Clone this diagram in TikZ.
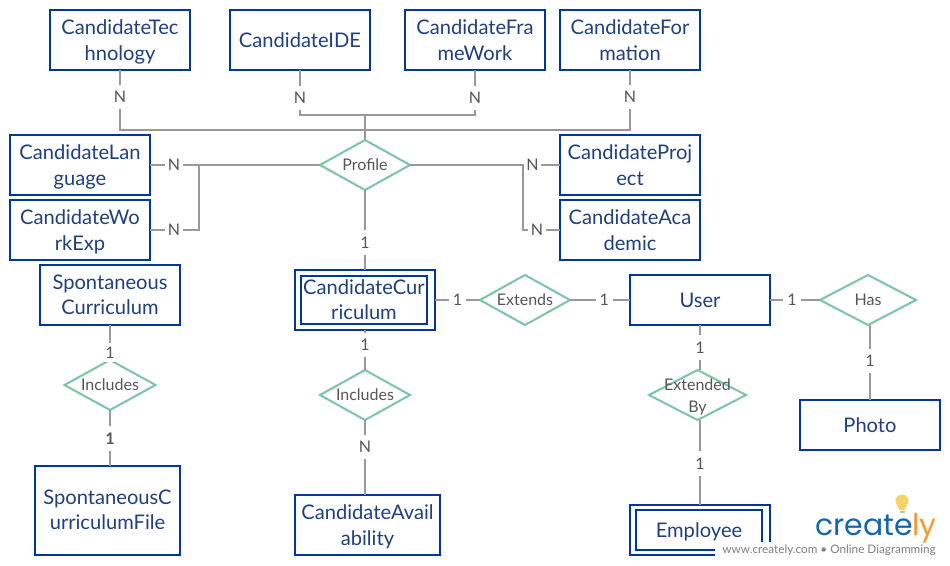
\documentclass[tikz,border=0pt]{standalone}
\usepackage{fontspec}
\setmainfont{Lato}
\newfontfamily\logofont{Poppins}
\usetikzlibrary{positioning,shapes.geometric,calc}
\definecolor{boxblue}{HTML}{00379A}
\definecolor{boxtext}{HTML}{1F3F7F}
\definecolor{relgreen}{HTML}{7CC5A2}
\definecolor{linkgray}{HTML}{999999}
\definecolor{cardgray}{HTML}{555555}
\definecolor{logoblue}{HTML}{1565AE}
\definecolor{logoorange}{HTML}{F79A2E}
\definecolor{bulbyellow}{HTML}{F6D267}
\tikzset{
  entity/.style={draw=boxblue,line width=1.5pt,fill=white,text=boxtext,minimum width=105pt,minimum height=45pt,
    inner sep=0pt,outer sep=0pt,align=center,text depth=-2pt,font=\fontsize{15.1}{19}\selectfont},
  relation/.style={diamond,aspect=1.8,draw=relgreen,line width=1.5pt,fill=white,text=cardgray,minimum width=67.5pt,minimum height=37.5pt,
    inner sep=0pt,outer sep=0pt,align=center,font=\fontsize{12}{15}\selectfont},
  link/.style={draw=linkgray,line width=1.5pt},
  card/.style={fill=white,text=cardgray,inner sep=0pt,minimum width=13pt,minimum height=18.5pt,font=\fontsize{12}{15}\selectfont},
}
\begin{document}
\begin{tikzpicture}[x=.75pt,y=-.75pt]
    \useasboundingbox[fill=white] (0,0) rectangle (950,565);
    % Define nodes
    \node (Tech) [entity] at (120,40) {CandidateTec\\hnology};
    \node (IDE) [entity,right=30pt of Tech] {CandidateIDE};
    \node (Frame) [entity,right=26.25pt of IDE] {CandidateFra\\meWork};
    \node (Formation) [entity,right=11.25pt of Frame] {CandidateFor\\mation};

    \node (Profile) [relation] at (365,165) {Profile};
    \node (Language) [entity] at (80,165) {CandidateLan\\guage};
    \node (WorkExp) [entity,below=3.75pt of Language] {CandidateWo\\rkExp};
    \node (Project) [entity] at (630,165) {CandidateProj\\ect};
    \node (Academic) [entity,below=3.75pt of Project] {CandidateAca\\demic};

    \node (Curriculum) [entity] at (365,300) {};
    \node (CurInner) [entity,minimum width=94.5pt,minimum height=36pt,text depth=0.5pt] at (364,300) {CandidateCur\\riculum};
    \node (Extends) [relation,right=33.75pt of Curriculum] {Extends};
    \node (User) [entity,minimum height=37.5pt,right=45pt of Extends] {User};
    \node (Has) [relation,minimum width=72pt,right=37.5pt of User] {Has};
    \node (Photo) [entity,minimum height=37.5pt] at (870,425) {Photo};

    \node (IncCur) [relation] at (365,395) {Includes};
    \node (Avail) [entity,minimum width=108.75pt] at (367.5,525) {CandidateAvail\\ability};
    \node (ExtBy) [relation,minimum width=72.75pt,label={[text=cardgray,align=center,yshift=-1.5pt,font=\fontsize{12}{16.5}\selectfont]center:Extended\\By}] at (697.5,395) {};
    \node (Employee) [entity,minimum height=37.5pt] at (700,530) {};
    \node (EmpInner) [entity,minimum width=94.5pt,minimum height=30pt] at (699,530) {Employee};

    \node (Spont) [entity] at (110,295) {Spontaneous\\Curriculum};
    \node (IncSpont) [relation,minimum width=68.25pt] at (110,385) {Includes};
    \node (SpontFile) [entity,minimum width=108.75pt,minimum height=66.75pt,text depth=0pt] at (107.5,510) {SpontaneousC\\urriculumFile};

    \coordinate (BusWide) at (365,130);
    \coordinate (BusNarrow) at (365,115);
    \coordinate (JoinLeft) at (199,165);
    \coordinate (JoinRight) at (523,165);

    % Draw connectors
    \draw[link] (Tech.south) |- node[card,pos=.225] {N} (BusWide);
    \draw[link] (Formation.south) |- node[card,pos=.225] {N} (BusWide);
    \draw[link] (IDE.south) |- node[card,pos=.31] {N} (BusNarrow);
    \draw[link] (Frame.south) |- node[card,pos=.31] {N} (BusNarrow);
    \draw[link] (BusNarrow) -- (Profile.north);

    \draw[link] (Language.east) -- node[card,pos=.141] {N} (Profile.west);
    \draw[link] (WorkExp.east) -| node[card,pos=.245] {N} (JoinLeft);
    \draw[link] (Profile.east) -- node[card,pos=.817] {N} (Project.west);
    \draw[link] (Academic.west) -| node[card,pos=.31] {N} (JoinRight);

    \draw[link] (Profile.south) -- node[card,pos=.66] {1} (Curriculum.north);
    \draw[link] (Curriculum.east) -- node[card,pos=.5] {1} (Extends.west);
    \draw[link] (Extends.east) -- node[card,pos=.57] {1} (User.west);
    \draw[link] (User.east) -- node[card,pos=.44] {1} (Has.west);
    \draw[link] (Has.south -| Photo.north) -- node[card,pos=.48] {1} (Photo.north);

    \draw[link] (Curriculum.south) -- node[card,pos=.375] {1} (IncCur.north);
    \draw[link] (IncCur.south) -- node[card,pos=.36] {N} (IncCur.south |- Avail.north);
    \draw[link] (User.south) -- node[card,pos=.5] {1} (User.south |- ExtBy.north);
    \draw[link] (User.south |- ExtBy.south) -- node[card,pos=.51] {1} (Employee.north);

    \draw[link] (Spont.south) -- node[card,minimum height=14pt,pos=.78] {1} (IncSpont.north);
    \draw[link] (IncSpont.south) -- node[card,pos=.51,font=\fontsize{12}{15}\bfseries] {1} (IncSpont.south |- SpontFile.north);

    % Logo
    \fill[white] (715,541.5) rectangle (950,565);
    \fill[bulbyellow] (902,501) circle (6.5);
    \fill[bulbyellow] (896.5,503) -- (907.5,503) -- (904.5,510) -- (899.5,510) -- cycle;
    \fill[gray!50] (899.5,510.5) rectangle (904.5,513);
    \node (Logo) [anchor=base east,inner sep=0pt,font=\logofont\fontsize{22.4}{26}\selectfont,text=logoblue] at (937,535) {create\textcolor{logoorange}{ly}};
    \node (LogoNote) [anchor=base east,inner sep=0pt,text=gray,font=\fontsize{8.8}{10}\selectfont] at (936,553) {www.creately.com • Online Diagramming};
\end{tikzpicture}
\end{document}
